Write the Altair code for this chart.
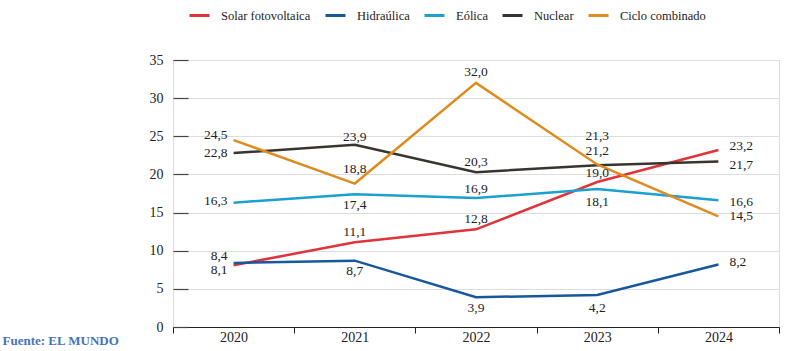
import altair as alt
import pandas as pd

# ---- data ----
years = ["2020", "2021", "2022", "2023", "2024"]
series = ["Solar fotovoltaica", "Hidraúlica", "Eólica", "Nuclear", "Ciclo combinado"]
solar = [8.1, 11.1, 12.8, 19.0, 23.2]
hidraulica = [8.4, 8.7, 3.9, 4.2, 8.2]
eolica = [16.3, 17.4, 16.9, 18.1, 16.6]
nuclear = [22.8, 23.9, 20.3, 21.2, 21.7]
ciclo = [24.5, 18.8, 32.0, 21.3, 14.5]
y_ticks = [0, 5, 10, 15, 20, 25, 30, 35]
source_text = "Fuente: EL MUNDO"

# ---- styles / layout ----
colors = ["#e0343b", "#17589c", "#1aa0d2", "#38342f", "#de8b1f"]
FONT = "Liberation Serif"
TXT = "#222222"
label_dy = {
    "Solar fotovoltaica": [5, -10.5, -10, -9, -4],
    "Hidraúlica": [-6.5, 10, 11, 13, -2.5],
    "Eólica": [-1.5, 11, -9, 13, 1.5],
    "Nuclear": [0, -8, -10.5, -14, 3.5],
    "Ciclo combinado": [-5, -15, -10.5, -28.5, 0],
}

values = [solar, hidraulica, eolica, nuclear, ciclo]
rows = []
for s, vals in zip(series, values):
    for y, v in zip(years, vals):
        rows.append({"serie": s, "year": y, "value": v,
                     "label": f"{v:.1f}".replace(".", ",")})
df = pd.DataFrame(rows)

x_enc = alt.X(
    "year:O",
    bandPosition=0.5,
    scale=alt.Scale(type="band", paddingInner=0, paddingOuter=0),
    sort=years,
    axis=alt.Axis(
        title=source_text, titleX=-171, titleY=13, titleAlign="left",
        titleBaseline="middle", titleFont=FONT, titleFontSize=13,
        titleFontWeight="bold", titleColor="#4673b9",
        tickBand="extent", tickSize=6, tickColor="#222", domainColor="#222",
        domainWidth=1.2, labelAngle=0, labelFont=FONT, labelFontSize=14,
        labelColor=TXT, labelPadding=4, labelBaseline="middle",
    ),
)
y_enc = alt.Y(
    "value:Q",
    scale=alt.Scale(domain=[0, 35], nice=False, zero=True),
    axis=alt.Axis(
        values=y_ticks, offset=-15, tickSize=15, domain=False,
        labelPadding=10, tickColor="#444", tickWidth=1.2,
        labelFont=FONT, labelFontSize=14, labelColor=TXT, title=None,
        labelOverlap=False,
    ),
)
color_enc = alt.Color(
    "serie:N",
    scale=alt.Scale(domain=series, range=colors),
    legend=alt.Legend(
        orient="none", legendX=15, legendY=-56, direction="horizontal",
        columns=5, title=None, symbolType="stroke", symbolSize=400,
        symbolStrokeWidth=3, labelOffset=10, columnPadding=8,
        labelFont=FONT, labelFontSize=12.5, labelColor=TXT,
    ),
)

base = alt.Chart(df)
lines = base.mark_line(strokeWidth=2.5).encode(
    x=x_enc, y=y_enc, color=color_enc, order=alt.Order("year:O")
)

layers = [lines]
for s in series:
    for i, yr in enumerate(years):
        if i == 0:
            dx, align = -6, "right"
        elif i == len(years) - 1:
            dx, align = 11, "left"
        else:
            dx, align = 0, "center"
        t = base.transform_filter(
            (alt.datum.serie == s) & (alt.datum.year == yr)
        ).mark_text(
            dx=dx, dy=label_dy[s][i], align=align, baseline="middle",
            font=FONT, fontSize=13.5, color=TXT,
        ).encode(x=x_enc, y=y_enc, text="label:N")
        layers.append(t)

chart = alt.layer(*layers).properties(
    width=606, height=267,
    autosize=alt.AutoSizeParams(type="none"),
    padding={"left": 173, "top": 60, "right": 23, "bottom": 24},
).configure_view(
    stroke="transparent", strokeWidth=0, strokeOpacity=0
).configure_axis(
    grid=False, gridOpacity=0
).configure_axisX(grid=False, gridOpacity=0).configure_axisY(
    grid=False, gridOpacity=0
).configure(background="white")

chart.save("out.html", embed_options={"renderer": "svg", "actions": False})
